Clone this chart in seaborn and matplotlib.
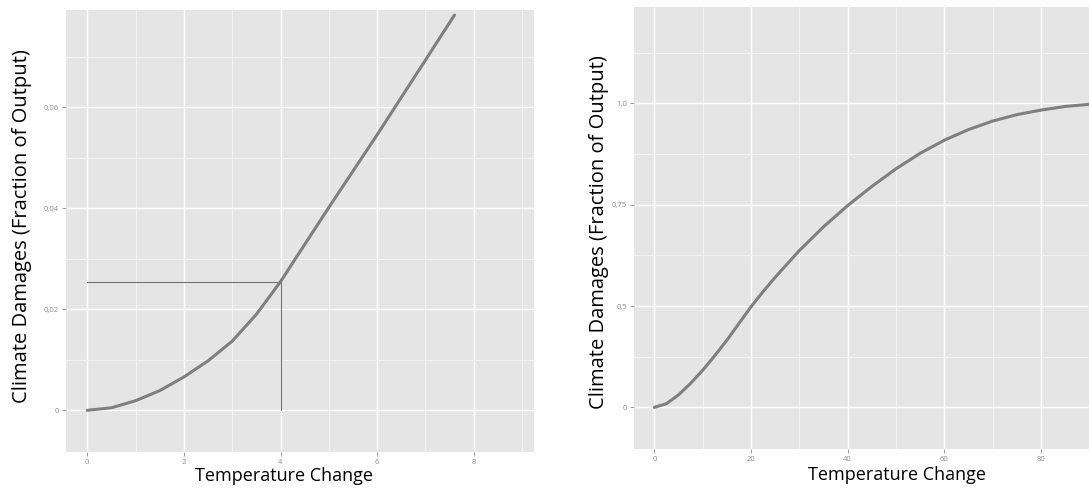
import matplotlib
matplotlib.use("Agg")
from matplotlib import pyplot as plt
from matplotlib.ticker import FixedLocator
import seaborn as sns
import numpy as np
import pandas as pd

# left panel: damages
temp_left = [0, 0.5, 1, 1.5, 2, 2.5, 3, 3.5, 4, 5, 6, 7, 7.6]
dmg_left = [0, 0.0005, 0.0019, 0.0039, 0.0066, 0.0098, 0.0137, 0.0190, 0.0255,
            0.0402, 0.0546, 0.0694, 0.0783]
ref_temp = 4
ref_dmg = 0.0255

# right panel: curve in axis position units, ticks labelled separately
temp_right = [0, 2.5, 5, 7.5, 10, 12.5, 15, 17.5, 20, 22.5, 25, 30, 35, 40, 45, 50,
              55, 60, 65, 70, 75, 80, 85, 90]
dmg_right = [0, 0.012, 0.041, 0.079, 0.122, 0.170, 0.221, 0.276, 0.331, 0.381, 0.428,
             0.516, 0.594, 0.664, 0.727, 0.785, 0.836, 0.879, 0.914, 0.942, 0.963,
             0.978, 0.990, 0.997]

left_yticks = [0, 0.02, 0.04, 0.06]
left_ylabels = ["0", "0,02", "0,04", "0,06"]
left_xticks = [0, 2, 4, 6, 8]
right_yticks = [0, 1/3, 2/3, 1]
right_ylabels = ["0", "0,5", "0,75", "1,0"]
right_xticks = [0, 20, 40, 60, 80]

xlab = "Temperature Change"
ylab = "Climate Damages (Fraction of Output)"

sns.set_style("darkgrid", {"axes.facecolor": "#E5E5E5", "grid.color": "white"})
plt.rcParams['font.family'] = ['Open Sans', 'DejaVu Sans']

fig = plt.figure(figsize=(10.89, 4.88), dpi=100)
ax1 = fig.add_axes([0.0606, 0.0744, 0.4295, 0.905])
ax2 = fig.add_axes([0.5822, 0.0805, 0.4178, 0.9045])

line_col = "#7f7f7f"

df_l = pd.DataFrame({"temp": temp_left, "dmg": dmg_left})
sns.lineplot(data=df_l, x="temp", y="dmg", ax=ax1, color=line_col, linewidth=2.2,
             zorder=3, solid_joinstyle="round", solid_capstyle="round")
ax1.plot([ref_temp, ref_temp], [0, ref_dmg], color="#707070", linewidth=0.8, zorder=2)
ax1.plot([0, ref_temp], [ref_dmg, ref_dmg], color="#707070", linewidth=0.8, zorder=2)

df_r = pd.DataFrame({"temp": temp_right, "dmg": dmg_right})
sns.lineplot(data=df_r, x="temp", y="dmg", ax=ax2, color=line_col, linewidth=2.2,
             zorder=3, solid_joinstyle="round", solid_capstyle="round")

ax1.set_xlim(-0.44, 9.24)
ax1.set_ylim(-0.0082, 0.0793)
ax2.set_xlim(-4.2, 89.9)
ax2.set_ylim(-0.136, 1.316)

ax1.set_xticks(left_xticks)
ax1.set_xticklabels([str(t) for t in left_xticks])
ax1.set_yticks(left_yticks)
ax1.set_yticklabels(left_ylabels)
ax1.xaxis.set_minor_locator(FixedLocator([1, 3, 5, 7, 9]))
ax1.yaxis.set_minor_locator(FixedLocator([0.01, 0.03, 0.05, 0.07]))

ax2.set_xticks(right_xticks)
ax2.set_xticklabels([str(t) for t in right_xticks])
ax2.set_yticks(right_yticks)
ax2.set_yticklabels(right_ylabels)
ax2.xaxis.set_minor_locator(FixedLocator([10, 30, 50, 70, 90]))
ax2.yaxis.set_minor_locator(FixedLocator([1/6, 1/2, 5/6, 7/6]))

for ax in (ax1, ax2):
    ax.grid(which="major", color="white", linewidth=1.0)
    ax.grid(which="minor", color="#F2F2F2", linewidth=0.8)
    ax.set_axisbelow(True)
    for s in ax.spines.values():
        s.set_visible(False)
    ax.tick_params(which="major", length=3, width=0.6, color="#8c8c8c",
                   labelsize=5.5, labelcolor="#8c8c8c", pad=2, bottom=True, left=True)
    ax.tick_params(which="minor", length=0)
    ax.set_xlabel(xlab, fontsize=13, color="black")
    ax.set_ylabel(ylab, fontsize=14.5, color="black")

ax1.xaxis.set_label_coords(0.466, -0.034)
ax1.yaxis.set_label_coords(-0.073, 0.51)
ax2.xaxis.set_label_coords(0.578, -0.040)
ax2.yaxis.set_label_coords(-0.055, 0.49)

fig.savefig("out.png", dpi=100)
